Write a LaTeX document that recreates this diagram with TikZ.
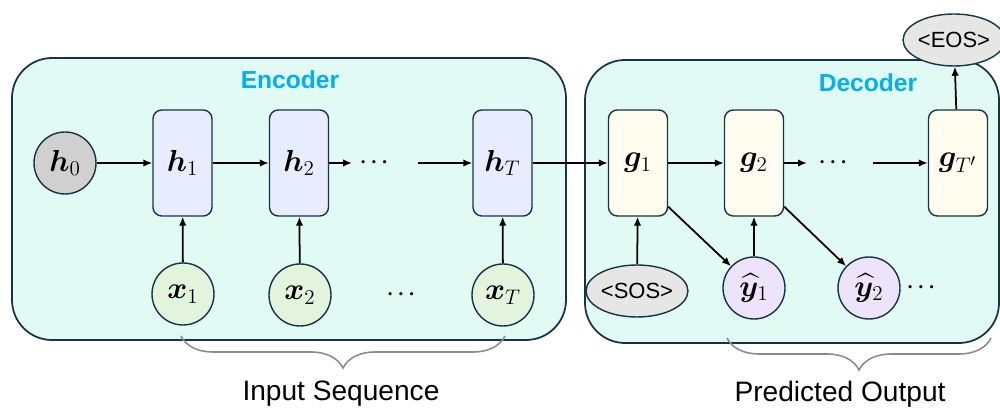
\documentclass[tikz,border=0pt]{standalone}
\usepackage[no-math]{fontspec}
\setmainfont{Liberation Sans}
\usepackage{amsmath, bm}
\definecolor{edgeblue}{RGB}{24, 52, 66}
\definecolor{panelmint}{RGB}{226, 250, 244}
\definecolor{encfill}{RGB}{232, 236, 255}
\definecolor{decfill}{RGB}{255, 252, 240}
\definecolor{xfill}{RGB}{226, 244, 220}
\definecolor{yfill}{RGB}{237, 228, 251}
\definecolor{hzero}{RGB}{208, 208, 208}
\definecolor{tokgray}{RGB}{230, 230, 230}
\definecolor{titlecyan}{RGB}{0, 176, 240}
\definecolor{bracegray}{RGB}{140, 140, 140}
\usetikzlibrary{shapes.geometric, arrows.meta, positioning, calc, decorations.pathreplacing}

\begin{document}
\begin{tikzpicture}[
  panel/.style={draw=edgeblue, fill=panelmint, line width=1pt, rounded corners=0.8cm},
  encbox/.style={draw=edgeblue, fill=encfill, line width=0.8pt, rounded corners=5pt, minimum width=1.18cm, minimum height=2.12cm, inner sep=0pt, font=\LARGE},
  decbox/.style={encbox, fill=decfill},
  cell/.style={circle, draw=edgeblue, line width=0.8pt, minimum size=1.24cm, inner sep=0pt, font=\LARGE},
  token/.style={ellipse, draw=edgeblue, fill=tokgray, line width=0.8pt, minimum height=1.04cm, inner sep=0pt, font=\fontsize{12.5}{14}\selectfont},
  flow/.style={-{Latex[length=1.8mm, width=1.5mm]}, line width=1pt},
  gap/.style={font=\large},
  grp/.style={decorate, decoration={brace, mirror, amplitude=0.64cm}, draw=bracegray, line width=0.9pt},
  lbl/.style={font=\fontsize{16}{18}\selectfont},
  paneltitle/.style={font=\fontsize{14}{16}\selectfont\bfseries, text=titlecyan}
]
  \useasboundingbox (0, 0) rectangle (20, 8.2);

  % Panels
  \draw[panel] (0.24, 1.40) rectangle (11.32, 7.04);
  \draw[panel] (11.70, 1.34) rectangle (19.98, 7.00);
  \node[paneltitle] (enctitle) at (5.80, 6.60) {Encoder};
  \node[paneltitle] (dectitle) at (17.36, 6.54) {Decoder};

  % Encoder
  \node[cell, fill=hzero] (h0) at (1.30, 4.94) {$\bm{h}_{0}$};
  \node[encbox] (h1) at (3.65, 4.94) {$\bm{h}_{1}$};
  \node[encbox] (h2) at (5.98, 4.94) {$\bm{h}_{2}$};
  \node[gap] (hdots) at (7.52, 4.94) {$\bm{\cdots}$};
  \node[encbox] (hT) at (10.05, 4.94) {$\bm{h}_{T}$};
  \coordinate (hgapL) at (7.04, 4.94);
  \coordinate (hgapR) at (8.36, 4.94);

  \node[cell, fill=xfill] (x1) at (3.66, 2.32) {$\bm{x}_{1}$};
  \node[cell, fill=xfill] (x2) at (6.00, 2.30) {$\bm{x}_{2}$};
  \node[gap] (xdots) at (8.06, 2.30) {$\bm{\cdots}$};
  \node[cell, fill=xfill] (xT) at (10.06, 2.30) {$\bm{x}_{T}$};

  \draw[flow] (h0) -- (h1);
  \draw[flow] (h1) -- (h2);
  \draw[flow] (h2) -- (hgapL);
  \draw[flow] (hgapR) -- (hT);
  \draw[flow] (x1) -- (h1);
  \draw[flow] (x2) -- (h2);
  \draw[flow] (xT) -- (hT);

  % Decoder
  \node[decbox] (g1) at (12.76, 4.94) {$\bm{g}_{1}$};
  \node[decbox] (g2) at (15.08, 4.94) {$\bm{g}_{2}$};
  \node[gap] (gdots) at (16.70, 4.94) {$\bm{\cdots}$};
  \node[decbox] (gT) at (19.16, 4.94) {$\bm{g}_{T'}$};
  \coordinate (ggapL) at (16.14, 4.94);
  \coordinate (ggapR) at (17.46, 4.94);

  \node[token, minimum width=2.0cm] (sos) at (12.74, 2.38) {<SOS>};
  \node[token, minimum width=1.8cm] (eos) at (19.08, 7.40) {<EOS>};
  \node[cell, fill=yfill] (y1) at (15.08, 2.44) {$\widehat{\bm{y}}_{1}$};
  \node[cell, fill=yfill] (y2) at (17.38, 2.44) {$\widehat{\bm{y}}_{2}$};
  \node[gap] (ydots) at (18.46, 2.44) {$\bm{\cdots}$};

  \draw[flow] (hT) -- (g1);
  \draw[flow] (g1) -- (g2);
  \draw[flow] (g2) -- (ggapL);
  \draw[flow] (ggapR) -- (gT);
  \draw[flow] (gT) -- (eos);
  \draw[flow] (sos) -- (g1);
  \draw[flow] (y1) -- (g2);
  \draw[flow] ([yshift=0.2cm]g1.south east) -- (y1);
  \draw[flow] ([yshift=0.2cm]g2.south east) -- (y2);

  % Braces
  \draw[grp] (3.62, 1.48) -- (10.10, 1.48);
  \draw[grp] (14.54, 1.44) -- (19.82, 1.44);
  \node[lbl] (inlbl) at (6.82, 0.32) {Input Sequence};
  \node[lbl] (outlbl) at (16.80, 0.32) {Predicted Output};
\end{tikzpicture}
\end{document}
